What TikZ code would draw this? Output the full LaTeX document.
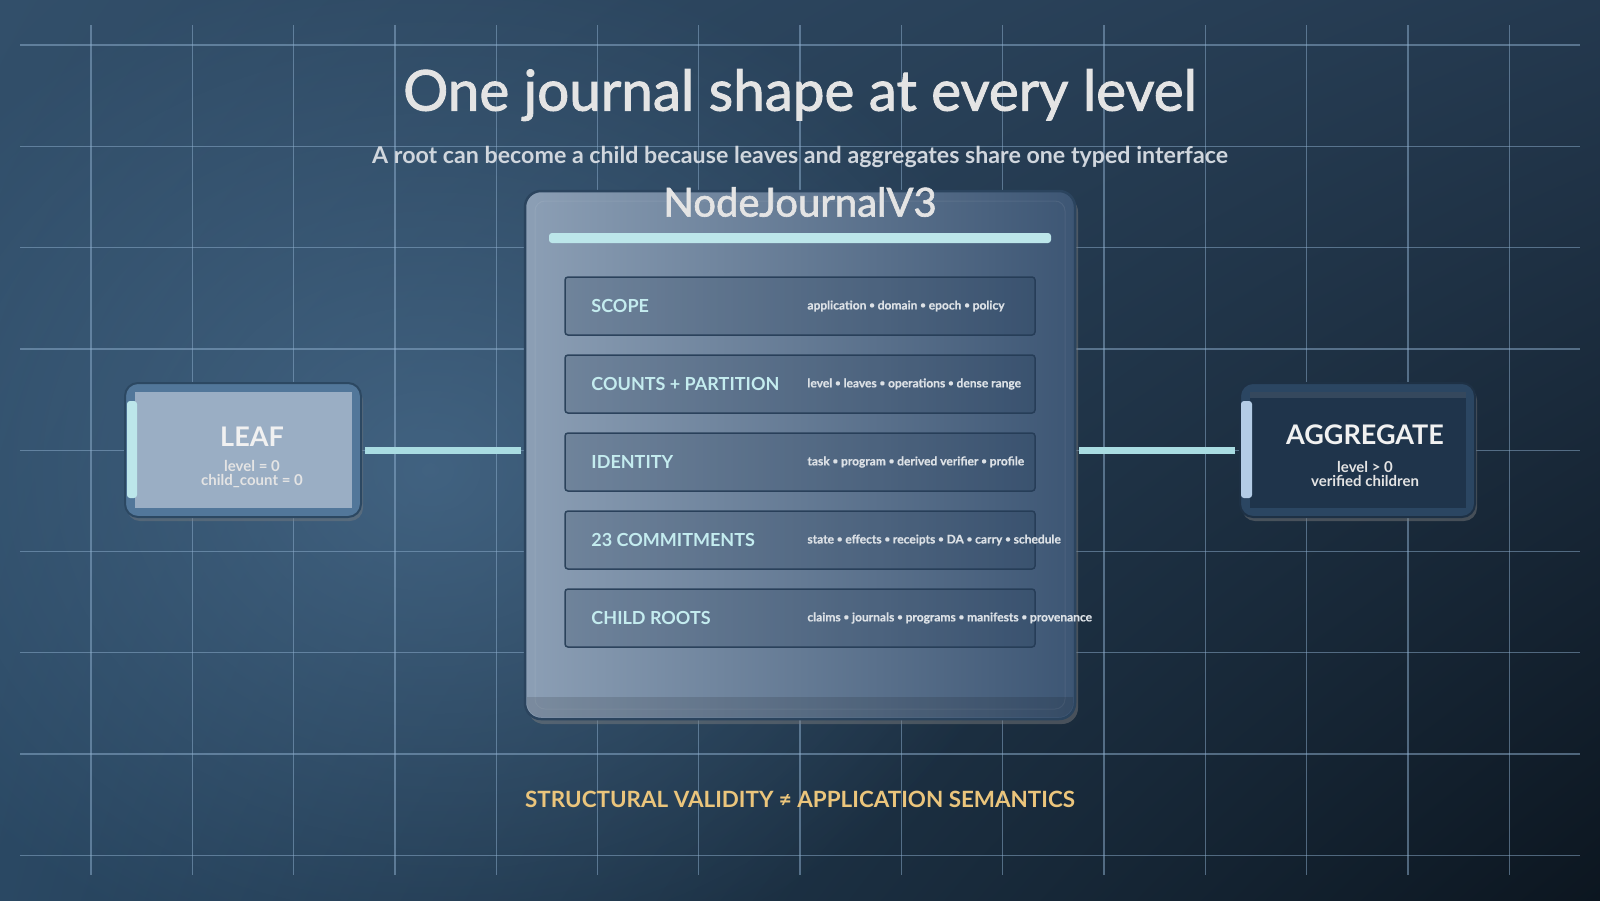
\documentclass[tikz,border=0pt]{standalone}
\usepackage{fontspec}
\setmainfont{Lato}
\newfontfamily\titlefont[FakeBold=1.6]{Lato}
\newfontfamily\descfont[BoldFeatures={FakeBold=0.6}]{Lato}
\usetikzlibrary{shadows,fadings,shadings}
\definecolor{bgUL}{HTML}{324F6A}
\definecolor{bgUR}{HTML}{24394F}
\definecolor{bgLL}{HTML}{2A4863}
\definecolor{bgLR}{HTML}{0C1620}
\definecolor{glowc}{HTML}{4F7496}
\definecolor{gridc}{HTML}{8FB0CF}
\definecolor{panelL}{HTML}{8C9FB5}
\definecolor{panelR}{HTML}{3D5674}
\definecolor{panelEdge}{HTML}{2B445E}
\definecolor{rowEdge}{HTML}{243B55}
\definecolor{rowFill}{HTML}{1E3550}
\definecolor{cyanbar}{HTML}{BCE6EA}
\definecolor{conncol}{HTML}{A9DCE2}
\definecolor{titlec}{HTML}{E4E4E4}
\definecolor{subc}{HTML}{D0D6DD}
\definecolor{rowlabc}{HTML}{C4ECEF}
\definecolor{descc}{HTML}{DCE1E6}
\definecolor{goldc}{HTML}{EBC57C}
\definecolor{leafRing}{HTML}{52779A}
\definecolor{leafInner}{HTML}{9AAEC4}
\definecolor{leafEdge}{HTML}{2C4862}
\definecolor{aggRing}{HTML}{2B4662}
\definecolor{aggInner}{HTML}{1F344B}
\definecolor{aggBar}{HTML}{B3CCE6}
\newcommand\bul{\ \raisebox{0.1em}{\fontsize{9.5}{9.5}\selectfont •}\ }
\tikzfading[name=glowfade, inner color=transparent!35, outer color=transparent!100]
\begin{document}
\begin{tikzpicture}[x=1pt,y=-1pt,
  gridline/.style={draw=gridc, draw opacity=0.5, line width=1.3pt},
  panel/.style={draw=panelEdge, line width=2.5pt, rounded corners=16pt,
    minimum width=550pt, minimum height=528pt, left color=panelL, right color=panelR,
    drop shadow={opacity=0.45, shadow xshift=3pt, shadow yshift=-5pt}},
  rowbox/.style={draw=rowEdge, line width=1.5pt, rounded corners=3pt,
    fill=rowFill, fill opacity=0.22, draw opacity=0.9,
    minimum width=470pt, minimum height=58pt},
  rowlab/.style={anchor=west, inner sep=0pt, text=rowlabc, font=\bfseries\fontsize{18}{20}\selectfont},
  rowdesc/.style={anchor=west, inner sep=0pt, text=descc, font=\descfont\bfseries\fontsize{12}{14}\selectfont},
  leafbox/.style={draw=leafEdge, line width=2pt, rounded corners=13pt, fill=leafRing,
    minimum width=236pt, minimum height=134pt,
    drop shadow={opacity=0.4, shadow xshift=2pt, shadow yshift=-4pt}},
  aggbox/.style={draw=aggRing!70!black, line width=2pt, rounded corners=13pt, fill=aggRing,
    minimum width=235pt, minimum height=134pt,
    drop shadow={opacity=0.45, shadow xshift=2pt, shadow yshift=-4pt}},
  boxtitle/.style={inner sep=0pt, text=titlec!50!white, font=\bfseries\fontsize{27}{30}\selectfont},
  boxsub/.style={inner sep=0pt, align=center, text=titlec, font=\bfseries\fontsize{15}{13.5}\selectfont},
  conn/.style={draw=conncol, line width=7pt, line cap=butt}
]
\useasboundingbox (0,0) rectangle (1600,900);
% background
\shade[upper left=bgUL, upper right=bgUR, lower left=bgLL, lower right=bgLR] (0,0) rectangle (1600,900);
\fill[glowc, path fading=glowfade] (430,470) ellipse (620pt and 520pt);
% grid
\foreach \i in {0,...,14} { \draw[gridline] ({91+101.3*\i},25) -- ({91+101.3*\i},875); }
\foreach \j in {0,...,8} { \draw[gridline] (20,{45+101.3*\j}) -- (1580,{45+101.3*\j}); }
% titles
\node[text=titlec, font=\titlefont\fontsize{56.5}{60}\selectfont] (title) at (800,95) {One journal shape at every level};
\node[text=subc, font=\bfseries\fontsize{23.2}{26}\selectfont] (subtitle) at (800,157) {A root can become a child because leaves and aggregates share one typed interface};
% main panel
\node[panel] (journal) at (800,455) {};
\draw[white, draw opacity=0.07, line width=1pt, rounded corners=10pt] (535,201) rectangle (1065,709);
\fill[black, fill opacity=0.12] (527,697) -- (1073,697) -- (1073,705) [rounded corners=14pt] -- (1073,717) -- (527,717) [sharp corners] -- (527,705) -- cycle;
\node[text=titlec, font=\titlefont\fontsize{40}{44}\selectfont] (jtitle) at (800,202) {NodeJournalV3};
\fill[cyanbar, rounded corners=3pt] (549,233) rectangle (1051,243);
% rows
\node[rowbox] (row1) at (800,306) {};
\node[rowbox] (row2) at (800,384) {};
\node[rowbox] (row3) at (800,462) {};
\node[rowbox] (row4) at (800,540) {};
\node[rowbox] (row5) at (800,618) {};
\node[rowlab] (lab1) at ([xshift=27pt]row1.west) {SCOPE};
\node[rowlab] (lab2) at ([xshift=27pt]row2.west) {COUNTS + PARTITION};
\node[rowlab] (lab3) at ([xshift=27pt]row3.west) {IDENTITY};
\node[rowlab] (lab4) at ([xshift=27pt]row4.west) {23 COMMITMENTS};
\node[rowlab] (lab5) at ([xshift=27pt]row5.west) {CHILD ROOTS};
\node[rowdesc] (d1) at ([xshift=243pt]row1.west) {application\bul domain\bul epoch\bul policy};
\node[rowdesc] (d2) at ([xshift=243pt]row2.west) {level\bul leaves\bul operations\bul dense range};
\node[rowdesc] (d3) at ([xshift=243pt]row3.west) {task\bul program\bul derived verifier\bul profile};
\node[rowdesc] (d4) at ([xshift=243pt]row4.west) {state\bul effects\bul receipts\bul DA\bul carry\bul schedule};
\node[rowdesc] (d5) at ([xshift=243pt]row5.west) {claims\bul journals\bul programs\bul manifests\bul provenance};
% leaf
\node[leafbox] (leaf) at (243,450) {};
\fill[leafInner] (135,392) rectangle (352,508);
\fill[cyanbar, rounded corners=3pt] (127,401) rectangle (137,498);
\node[boxtitle] (leaft) at (252,437) {LEAF};
\node[boxsub] (leafs) at (252,474) {level = 0\\child\_count = 0};
% aggregate
\node[aggbox] (agg) at (1357.5,450) {};
\fill[aggInner] (1250,392) rectangle (1466,508);
\fill[white, fill opacity=0.1] (1250,392) rectangle (1466,398);
\fill[aggBar, rounded corners=3pt] (1241,401) rectangle (1252,498);
\node[boxtitle] (aggt) at (1365,435) {AGGREGATE};
\node[boxsub] (aggs) at (1365,474) {level > 0\\verified children};
% connectors
\draw[conn, shorten <=3pt, shorten >=3pt] (leaf.east) -- (leaf.east -| journal.west);
\draw[conn, shorten <=3pt, shorten >=4pt] (agg.west -| journal.east) -- (agg.west);
% bottom note
\node[text=goldc, font=\bfseries\fontsize{22.4}{25}\selectfont] (note) at (800,799) {STRUCTURAL VALIDITY ≠ APPLICATION SEMANTICS};
\end{tikzpicture}
\end{document}
